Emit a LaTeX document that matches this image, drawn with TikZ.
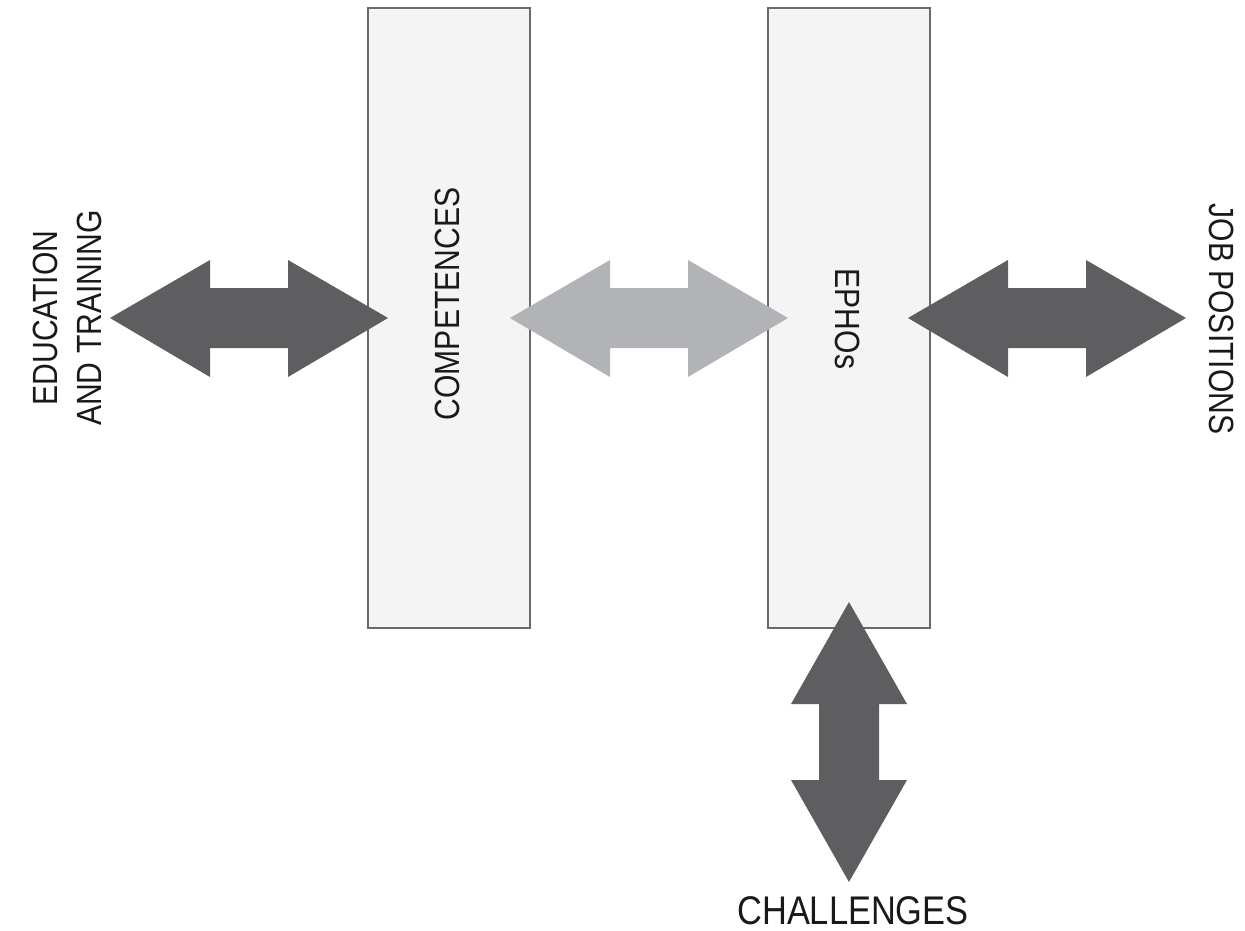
\documentclass[tikz,border=0pt]{standalone}
\usepackage{fontspec}
\setmainfont{Liberation Sans}[FakeStretch=0.86]
\usepackage{color}
\usepackage[usenames]{xcolor}
\usepackage{tikz}
\definecolor{darkarrow}{HTML}{5E5E61}
\definecolor{lightarrow}{HTML}{B2B3B6}
\definecolor{boxfill}{HTML}{F4F4F4}
\definecolor{boxline}{HTML}{6A6A6A}
\tikzset{
  pillar/.style={draw=boxline,fill=boxfill,line width=1.2pt,minimum width=620pt,minimum height=162pt,inner sep=0pt},
  caption/.style={font=\fontsize{35}{44}\selectfont,align=center,inner sep=0pt,text=black!90}
}
\begin{document}
\begin{tikzpicture}[x=1pt,y=-1pt]
\useasboundingbox (0,0) rectangle (1245,931);
\node[pillar,rotate=90] (comp) at (449,318) {};
\node[pillar,rotate=90] (ephos) at (849,318) {};
\node[caption,rotate=90] (complabel) at (447,304) {COMPETENCES};
\node[caption,rotate=-90] (ephoslabel) at (848,319) {EPHOs};
\node[caption,rotate=90] (edu) at (67,318) {EDUCATION\\AND TRAINING};
\node[caption,rotate=-90] (job) at (1222,319) {JOB POSITIONS};
\node[caption,font=\fontsize{40}{44}\selectfont] (chal) at (853,911) {CHALLENGES};
\foreach \x/\c in {110/darkarrow,510/lightarrow,908/darkarrow}
  \fill[\c,shift={(\x,318)}] (0,0) -- (100,-58) -- (100,-30) -- (178,-30) -- (178,-58) -- (278,0)
    -- (178,59) -- (178,30) -- (100,30) -- (100,59) -- cycle;
\fill[darkarrow,shift={(849,602)}] (0,0) -- (58,102) -- (30,102) -- (30,178) -- (58,178) -- (0,280)
  -- (-58,178) -- (-30,178) -- (-30,102) -- (-58,102) -- cycle;
\end{tikzpicture}
\end{document}
